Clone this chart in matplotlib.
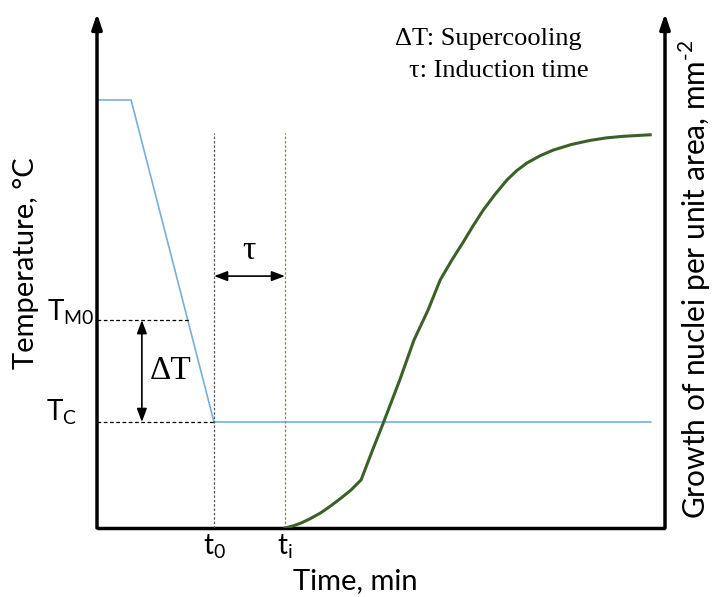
import numpy as np
import matplotlib.pyplot as plt

plt.rcParams['font.family'] = ['Lato', 'DejaVu Sans']
plt.rcParams['mathtext.fontset'] = 'custom'
plt.rcParams['mathtext.rm'] = 'Lato'

# schematic values (axes run 0-100 in both directions)
temp_x = [0, 6.0, 20.6, 97.5]
temp_y = [83.6, 83.6, 20.7, 20.7]

growth_x = [33.1, 34.5, 36.0, 37.5, 39.3, 41.0, 42.8, 44.7, 46.5, 48.4, 50.4, 53.3, 55.8,
            58.3, 60.4, 62.4, 64.4, 66.2, 68.0, 70.1, 72.2, 73.9, 75.7, 78.0, 80.3, 83.5,
            86.8, 89.7, 92.6, 97.4]
growth_y = [0.0, 0.4, 1.0, 1.8, 2.9, 4.2, 5.7, 7.4, 9.4, 14.9, 20.5, 28.9, 36.7,
            42.6, 48.4, 52.2, 55.7, 59.0, 62.1, 65.2, 68.0, 69.8, 71.3, 72.7, 73.8, 74.9,
            75.7, 76.2, 76.5, 76.8]

t0, ti = 20.6, 33.1
T_M0, T_C = 40.6, 20.7
T_M0_end = 16.4
guide_top = 77.1
tau_y = 49.2
dT_x = 7.9

fig = plt.figure(figsize=(7.12, 5.97), dpi=100)
ax = fig.add_axes([97 / 712, 69 / 597, 568 / 712, 512 / 597])
ax.set_xlim(0, 100)
ax.set_ylim(0, 100)
ax.axis('off')

# axes with arrows
arrow = dict(arrowstyle='-|>,head_length=0.9,head_width=0.3', lw=2.5, color='black', shrinkA=0, shrinkB=0)
ax.annotate('', xy=(0, 1.005), xytext=(0, 0), xycoords='axes fraction', arrowprops=arrow)
ax.annotate('', xy=(1, 1.005), xytext=(1, 0), xycoords='axes fraction', arrowprops=arrow)
ax.plot([0, 1], [0, 0], color='black', lw=2.5, transform=ax.transAxes, clip_on=False, solid_capstyle='butt')

# temperature profile
ax.plot(temp_x, temp_y, color='#79aedb', lw=1.2)

# guide lines
ax.plot([0, T_M0_end], [T_M0, T_M0], color='black', lw=0.9, ls=(0, (3, 2)))
ax.plot([0, t0], [T_C, T_C], color='black', lw=0.9, ls=(0, (3, 2)))
ax.plot([t0, t0], [0, guide_top], color='#555555', lw=0.9, ls=(0, (2, 1.5)))
ax.plot([ti, ti], [0, guide_top], color='#8a7e62', lw=0.9, ls=(0, (2, 1.5)))

# nucleation growth
ax.plot(growth_x, growth_y, color='#3c6128', lw=2.2)

# tau and delta T arrows
dbl = dict(arrowstyle='<|-|>,head_length=0.8,head_width=0.3', lw=1.2, color='black', shrinkA=0, shrinkB=0)
ax.annotate('', xy=(ti, tau_y), xytext=(t0, tau_y), arrowprops=dbl)
ax.annotate('', xy=(dT_x, T_M0), xytext=(dT_x, T_C), arrowprops=dbl)
ax.text((t0 + ti) / 2, tau_y + 2.0, '\u03c4', fontsize=24, ha='center', va='bottom',
        family='Liberation Serif')
ax.text(dT_x + 1.3, (T_M0 + T_C) / 2, '\u0394T', fontsize=24, ha='left', va='center',
        family='Liberation Serif')

# tick-like labels
ax.text(-0.5, T_M0 + 1.5, r'T$_{\mathregular{M0}}$', fontsize=20, ha='right', va='center')
ax.text(-3.5, T_C + 2.0, r'T$_{\mathregular{C}}$', fontsize=20, ha='right', va='center')
ax.text(t0, -0.8, r't$_{\mathregular{0}}$', fontsize=20, ha='center', va='top')
ax.text(ti, -0.8, r't$_{\mathregular{i}}$', fontsize=20, ha='center', va='top')

# axis titles
ax.text(45.5, -7.8, 'Time, min', fontsize=21, ha='center', va='top')
ax.text(-12.5, 51.8, 'Temperature, \u00b0C', fontsize=21, ha='center', va='center', rotation=90)
ax.text(105.2, 48.6, r'Growth of nuclei per unit area, mm$^{\mathregular{\text{-}2}}$', fontsize=21.5,
        ha='center', va='center', rotation=90)

# notes
ax.text(52.5, 95.6, '\u0394T: Supercooling', fontsize=19, ha='left', va='center',
        family='Liberation Serif')
ax.text(55.0, 89.2, '\u03c4: Induction time', fontsize=19, ha='left', va='center',
        family='Liberation Serif')

fig.savefig('out.png', dpi=100)
